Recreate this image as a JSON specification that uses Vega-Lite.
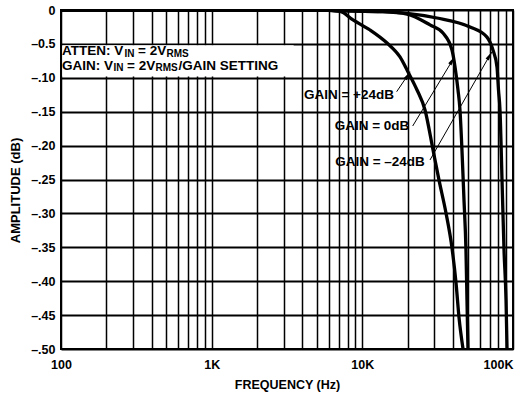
{
  "$schema": "https://vega.github.io/schema/vega-lite/v6.json",
  "width": 452,
  "height": 339,
  "autosize": {"type": "none"},
  "padding": {"left": 61, "top": 10, "right": 14, "bottom": 48},
  "background": "white",
  "config": {
    "view": {"stroke": "black", "strokeWidth": 2},
    "font": "Liberation Sans"
  },
  "datasets": {
    "curves": [
      {"gain": "+24dB", "f": 100, "amp": 0},
      {"gain": "+24dB", "f": 5000, "amp": 0},
      {"gain": "+24dB", "f": 7110, "amp": -0.002},
      {"gain": "+24dB", "f": 8670, "amp": -0.0147},
      {"gain": "+24dB", "f": 11250, "amp": -0.0295},
      {"gain": "+24dB", "f": 14590, "amp": -0.0487},
      {"gain": "+24dB", "f": 17780, "amp": -0.0693},
      {"gain": "+24dB", "f": 20100, "amp": -0.0914},
      {"gain": "+24dB", "f": 23070, "amp": -0.118},
      {"gain": "+24dB", "f": 26060, "amp": -0.1475},
      {"gain": "+24dB", "f": 29440, "amp": -0.206},
      {"gain": "+24dB", "f": 32280, "amp": -0.251},
      {"gain": "+24dB", "f": 35890, "amp": -0.299},
      {"gain": "+24dB", "f": 39370, "amp": -0.351},
      {"gain": "+24dB", "f": 41880, "amp": -0.403},
      {"gain": "+24dB", "f": 43850, "amp": -0.454},
      {"gain": "+24dB", "f": 46600, "amp": -0.5},
      {"gain": "0dB", "f": 100, "amp": 0},
      {"gain": "0dB", "f": 5000, "amp": 0},
      {"gain": "0dB", "f": 7110, "amp": -0.001},
      {"gain": "0dB", "f": 13710, "amp": -0.0025},
      {"gain": "0dB", "f": 19780, "amp": -0.006},
      {"gain": "0dB", "f": 28120, "amp": -0.022},
      {"gain": "0dB", "f": 34290, "amp": -0.034},
      {"gain": "0dB", "f": 39370, "amp": -0.059},
      {"gain": "0dB", "f": 41230, "amp": -0.084},
      {"gain": "0dB", "f": 43150, "amp": -0.118},
      {"gain": "0dB", "f": 44480, "amp": -0.1475},
      {"gain": "0dB", "f": 45830, "amp": -0.206},
      {"gain": "0dB", "f": 47280, "amp": -0.28},
      {"gain": "0dB", "f": 48730, "amp": -0.354},
      {"gain": "0dB", "f": 49500, "amp": -0.428},
      {"gain": "0dB", "f": 50240, "amp": -0.5},
      {"gain": "-24dB", "f": 100, "amp": 0},
      {"gain": "-24dB", "f": 5000, "amp": 0},
      {"gain": "-24dB", "f": 7110, "amp": -0.001},
      {"gain": "-24dB", "f": 13710, "amp": -0.0025},
      {"gain": "-24dB", "f": 19780, "amp": -0.005},
      {"gain": "-24dB", "f": 31310, "amp": -0.0118},
      {"gain": "-24dB", "f": 51830, "amp": -0.025},
      {"gain": "-24dB", "f": 67180, "amp": -0.04},
      {"gain": "-24dB", "f": 73600, "amp": -0.059},
      {"gain": "-24dB", "f": 78300, "amp": -0.084},
      {"gain": "-24dB", "f": 80120, "amp": -0.118},
      {"gain": "-24dB", "f": 81970, "amp": -0.1475},
      {"gain": "-24dB", "f": 84560, "amp": -0.251},
      {"gain": "-24dB", "f": 87170, "amp": -0.354},
      {"gain": "-24dB", "f": 89900, "amp": -0.428},
      {"gain": "-24dB", "f": 91300, "amp": -0.5}
    ],
    "box": [{"f": 102, "f2": 3500, "amp": -0.052, "amp2": -0.098}],
    "textMain": [
      {"t": "ATTEN: V", "f": 101.5, "amp": -0.0664},
      {"t": "= 2V", "f": 324.4, "amp": -0.0664},
      {"t": "GAIN: V", "f": 101.5, "amp": -0.0885},
      {"t": "= 2V", "f": 274.2, "amp": -0.0885},
      {"t": "/GAIN SETTING", "f": 602.6, "amp": -0.0885}
    ],
    "textSub": [
      {"t": "IN", "f": 263.9, "amp": -0.0686},
      {"t": "RMS", "f": 501.4, "amp": -0.0686},
      {"t": "IN", "f": 223.1, "amp": -0.0907},
      {"t": "RMS", "f": 423.9, "amp": -0.0907}
    ],
    "labels": [
      {"t": "GAIN = +24dB", "f": 8155, "amp": -0.1313},
      {"t": "GAIN = 0dB", "f": 11590, "amp": -0.177},
      {"t": "GAIN = –24dB", "f": 13100, "amp": -0.2301}
    ],
    "arrows": [
      {"label": "+24dB", "f": 16900, "amp": -0.1205, "f2": 20720, "amp2": -0.0914},
      {"label": "0dB", "f": 21590, "amp": -0.1711, "f2": 40900, "amp2": -0.0693},
      {"label": "-24dB", "f": 28120, "amp": -0.2212, "f2": 72220, "amp2": -0.0619}
    ],
    "heads": [
      {"label": "+24dB", "f": 20040, "amp": -0.0963},
      {"label": "0dB", "f": 39610, "amp": -0.0743},
      {"label": "-24dB", "f": 70020, "amp": -0.0671}
    ]
  },
  "encoding": {
    "x": {
      "field": "f",
      "type": "quantitative",
      "scale": {"type": "log", "domain": [100, 100000], "nice": false},
      "axis": {
        "values": [100, 200, 300, 400, 500, 600, 700, 800, 900, 1000, 2000, 3000, 4000, 5000, 6000, 7000, 8000, 9000, 10000, 20000, 30000, 40000, 50000, 60000, 70000, 80000, 90000, 100000],
        "labelExpr": "datum.value == 100 ? '100' : datum.value == 1000 ? '1K' : datum.value == 10000 ? '10K' : datum.value == 100000 ? '100K' : ''",
        "grid": true,
        "gridColor": "black",
        "gridWidth": 1.5,
        "gridOpacity": 1,
        "ticks": false,
        "domain": false,
        "labelFont": "Liberation Sans",
        "labelFontWeight": "bold",
        "labelFontSize": 12.5,
        "labelColor": "black",
        "labelPadding": 9,
        "labelFlush": false,
        "labelOverlap": false,
        "labelAlign": {"condition": {"test": "datum.value == 100000", "value": "right"}, "value": "center"},
        "title": "FREQUENCY (Hz)",
        "titleFont": "Liberation Sans",
        "titleFontWeight": "bold",
        "titleFontSize": 12.5,
        "titleColor": "black",
        "titleY": 39,
        "titleBaseline": "alphabetic"
      }
    },
    "y": {
      "field": "amp",
      "type": "quantitative",
      "scale": {"domain": [-0.5, 0], "nice": false, "zero": false},
      "axis": {
        "values": [0, -0.05, -0.1, -0.15, -0.2, -0.25, -0.3, -0.35, -0.4, -0.45, -0.5],
        "labelExpr": "datum.value == 0 ? '0' : datum.value > -0.07 ? '–0.5' : '–.' + round(-datum.value * 100)",
        "grid": true,
        "gridColor": "black",
        "gridWidth": 2,
        "gridOpacity": 1,
        "ticks": false,
        "domain": false,
        "labelFont": "Liberation Sans",
        "labelFontWeight": "bold",
        "labelFontSize": 12.5,
        "labelColor": "black",
        "labelPadding": 6,
        "title": "AMPLITUDE (dB)",
        "titleFont": "Liberation Sans",
        "titleFontWeight": "bold",
        "titleFontSize": 13,
        "titleColor": "black",
        "titleAngle": -90,
        "titleX": -46,
        "titleY": 180,
        "titleAlign": "center",
        "titleBaseline": "middle"
      }
    }
  },
  "layer": [
    {
      "data": {"name": "box"},
      "mark": {"type": "rect", "fill": "white", "strokeWidth": 0},
      "encoding": {"x2": {"field": "f2"}, "y2": {"field": "amp2"}}
    },
    {
      "data": {"name": "curves"},
      "mark": {"type": "line", "color": "black", "strokeWidth": 3.3, "interpolate": "monotone", "clip": true},
      "encoding": {"detail": {"field": "gain", "type": "nominal"}}
    },
    {
      "data": {"name": "arrows"},
      "mark": {"type": "rule", "color": "black", "strokeWidth": 1},
      "encoding": {"x2": {"field": "f2"}, "y2": {"field": "amp2"}}
    },
    {
      "data": {"name": "heads"},
      "mark": {"type": "point", "shape": "M0,-1L0.4,1L-0.4,1Z", "filled": true, "color": "black", "size": 90, "opacity": 1, "strokeWidth": 0},
      "encoding": {
        "angle": {"field": "label", "type": "nominal", "scale": {"domain": ["+24dB", "0dB", "-24dB"], "range": [33.6, 31.2, 29.7]}, "legend": null}
      }
    },
    {
      "data": {"name": "textMain"},
      "mark": {"type": "text", "align": "left", "baseline": "alphabetic", "font": "Liberation Sans", "fontWeight": "bold", "fontSize": 13.5, "color": "black"},
      "encoding": {"text": {"field": "t"}}
    },
    {
      "data": {"name": "textSub"},
      "mark": {"type": "text", "align": "left", "baseline": "alphabetic", "font": "Liberation Sans", "fontWeight": "bold", "fontSize": 10, "color": "black"},
      "encoding": {"text": {"field": "t"}}
    },
    {
      "data": {"name": "labels"},
      "mark": {"type": "text", "align": "center", "baseline": "alphabetic", "font": "Liberation Sans", "fontWeight": "bold", "fontSize": 13.5, "color": "black"},
      "encoding": {"text": {"field": "t"}}
    }
  ]
}
